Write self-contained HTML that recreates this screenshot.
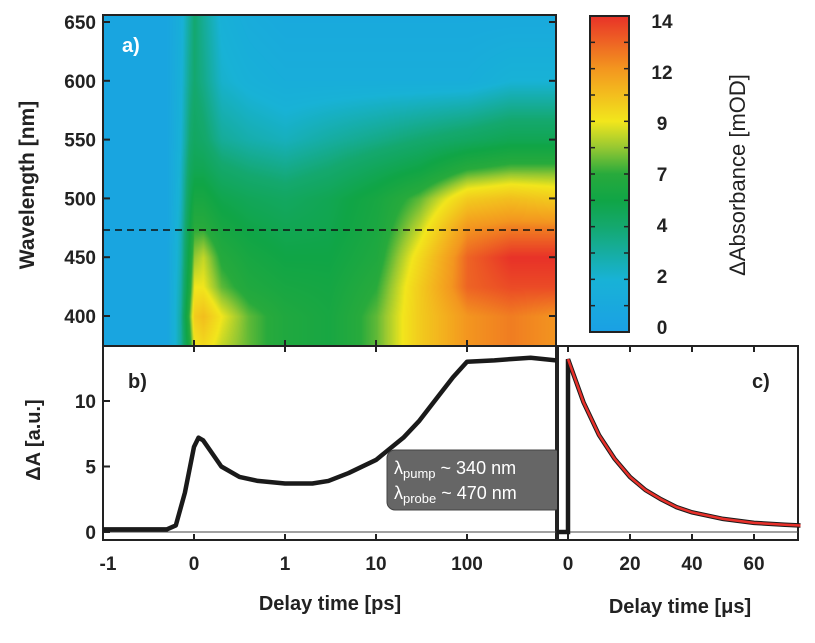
<!DOCTYPE html>
<html><head><meta charset="utf-8"><style>
body{margin:0;background:#fff;width:815px;height:643px;overflow:hidden;font-family:"Liberation Sans",sans-serif;}
svg text{font-family:"Liberation Sans",sans-serif;font-weight:bold;fill:#222;}
#hm{position:absolute;left:103px;top:15px;}
</style></head><body>
<canvas id="hm" width="453" height="331"></canvas>
<svg id="s" width="815" height="643" style="position:absolute;left:0;top:0"></svg>
<script>
// heatmap data
const hmTimes=[-1,-0.3,-0.15,-0.05,0,0.1,0.3,0.6,1,3,10,30,100,300,1000];
const hmWaves=[375,400,425,450,475,500,525,550,600,656];
const hmValues=[ // rows = times, cols = waves
[0.5,0.5,0.5,0.5,0.5,0.5,0.5,0.5,0.5,0.5],
[0.6,0.6,0.6,0.6,0.6,0.6,0.6,0.6,0.6,0.6],
[3,3,2.8,2.6,2.5,2.3,2.2,2,1.8,1.6],
[6.5,7.5,6.5,6,5.5,5,4.5,4,3.5,3.2],
[9,10,9,8,7,6,5,4.5,4,4],
[9.5,10.5,9,8.5,7,6,5,4.2,3.5,3.2],
[8.5,9,7.5,6.8,6,5.2,4.2,3.2,2.2,1.8],
[7.5,7.5,6.5,6,5.4,4.8,3.8,2.8,1.8,1.3],
[6.5,6.5,6,5.5,5,4.5,3.5,2.5,1.5,1],
[6,6,5.8,5.5,5.2,5,4,3,1.5,1],
[7.5,7.5,7,6.5,6.2,6,4.8,3.5,1.5,1],
[10,10,10,9.5,8.5,7.5,5.5,4,1.5,1],
[12,12,13,13,12,10,7,4.5,1.5,1],
[12.5,12.5,13.5,14,12.5,10.5,7.5,5,2,1],
[12,12,13.5,14,12.5,10,7.5,5,2,1]];
// panel b data
const bTimes=[-1,-0.5,-0.3,-0.2,-0.1,0,0.05,0.1,0.2,0.3,0.5,0.7,1,2,3,5,10,20,30,50,70,100,200,300,500,950];
const bValues=[0.2,0.2,0.2,0.5,3,6.5,7.2,7,6,5,4.2,3.9,3.7,3.7,3.9,4.5,5.5,7.2,8.5,10.5,11.8,13,13.1,13.2,13.3,13.1];
// panel c data
const cTimes=[0,5,10,15,20,25,30,35,40,50,60,70,75];
const cValues=[13.2,9.9,7.4,5.6,4.2,3.2,2.5,1.9,1.5,1.0,0.7,0.55,0.5];
const xTickLabels=["-1","0","1","10","100"];
const xTickVals=[-1,0,1,10,100];
const wTicks=[400,450,500,550,600,650];
const aTicks=[0,5,10];
const cTicks=[0,20,40,60];
const cbLabels=[0,2,4,7,9,12,14];

function u(t){return t<=1?t:1+Math.log10(t);}
function xT(t){return 194+u(t)*91;}
function yW(w){return 316-(w-400)*1.176;}
function yA(a){return 532-a*13.1;}
function xC(t){return 568+t*3.1;}
const stops=[[0,[26,160,228]],[2,[24,178,214]],[4,[20,168,110]],[5.5,[16,165,70]],[7,[40,170,60]],[8,[150,200,50]],[9,[242,230,28]],[12,[243,150,31]],[14,[232,50,40]]];
function col(v){v=Math.max(0,Math.min(14,v));for(let i=0;i<stops.length-1;i++){const[a,ca]=stops[i],[b,cb]=stops[i+1];if(v<=b){const f=(v-a)/(b-a);return ca.map((c,k)=>Math.round(c+(cb[k]-c)*f));}}return stops[stops.length-1][1];}
const cv=document.getElementById('hm'),ctx=cv.getContext('2d'),img=ctx.createImageData(453,331);
const tu=hmTimes.map(u);
function idx(arr,v){for(let i=0;i<arr.length-1;i++)if(v<=arr[i+1])return i;return arr.length-2;}
for(let py=0;py<331;py++){const w=400+(316-(py+15))/1.176;const j=idx(hmWaves,w);const fw=Math.max(0,Math.min(1,(w-hmWaves[j])/(hmWaves[j+1]-hmWaves[j])));
for(let px=0;px<453;px++){const uu=(px+103-194)/91;const i=idx(tu,uu);const ft=Math.max(0,Math.min(1,(uu-tu[i])/(tu[i+1]-tu[i])));
const v=(hmValues[i][j]*(1-fw)+hmValues[i][j+1]*fw)*(1-ft)+(hmValues[i+1][j]*(1-fw)+hmValues[i+1][j+1]*fw)*ft;
const c=col(v),o=(py*453+px)*4;img.data[o]=c[0];img.data[o+1]=c[1];img.data[o+2]=c[2];img.data[o+3]=255;}}
ctx.putImageData(img,0,0);

const S=document.getElementById('s'),NS='http://www.w3.org/2000/svg';
function el(t,a,txt){const e=document.createElementNS(NS,t);for(const k in a)e.setAttribute(k,a[k]);if(txt!==undefined)e.textContent=txt;S.appendChild(e);return e;}
let e;
e=el('rect',{x:103,y:15,width:453,height:331,fill:'none',stroke:'#222','stroke-width':2});

e=el('line',{x1:103,y1:230,x2:556,y2:230,stroke:'#111','stroke-width':1.6,'stroke-dasharray':'7,5'});

e=el('text',{x:122,y:52,'font-size':20,style:'fill:#fff'},'a)');

wTicks.forEach(w=>{el('line',{x1:103,y1:yW(w),x2:110,y2:yW(w),stroke:'#222','stroke-width':2});el('line',{x1:549,y1:yW(w),x2:556,y2:yW(w),stroke:'#222','stroke-width':2});
e=el('text',{x:96,y:yW(w)+7,'font-size':19,'text-anchor':'end'},w);});
e=el('text',{x:34,y:185,'font-size':21,'text-anchor':'middle',transform:'rotate(-90 34 185)'},'Wavelength [nm]');

const defs=el('defs',{});const lg=document.createElementNS(NS,'linearGradient');lg.setAttribute('id','cb');lg.setAttribute('x1',0);lg.setAttribute('y1',1);lg.setAttribute('x2',0);lg.setAttribute('y2',0);defs.appendChild(lg);
for(let k=0;k<=28;k++){const v=k/2;const pos=(()=>{for(let i=0;i<cbLabels.length-1;i++)if(v<=cbLabels[i+1])return (i+(v-cbLabels[i])/(cbLabels[i+1]-cbLabels[i]))/(cbLabels.length-1);return 1;})();const s=document.createElementNS(NS,'stop');s.setAttribute('offset',pos);s.setAttribute('stop-color','rgb('+col(v).join(',')+')');lg.appendChild(s);}
e=el('rect',{x:590,y:16,width:39,height:316,fill:'url(#cb)',stroke:'#222','stroke-width':2});

cbLabels.forEach((v,i)=>{const y=327-i*51;e=el('text',{x:662,y:y+7,'font-size':19,'text-anchor':'middle'},v);});
for(let k=1;k<12;k++){const y=332-k*316/12;el('line',{x1:590,y1:y,x2:595,y2:y,stroke:'#222','stroke-width':1.5});el('line',{x1:624,y1:y,x2:629,y2:y,stroke:'#222','stroke-width':1.5});}
e=el('text',{x:745,y:175,'font-size':22,'text-anchor':'middle',transform:'rotate(-90 745 175)',style:'font-weight:normal'},'\u0394Absorbance [mOD]');

e=el('rect',{x:103,y:346,width:453,height:194,fill:'#fff',stroke:'#222','stroke-width':2});

el('line',{x1:103,y1:532,x2:556,y2:532,stroke:'#444','stroke-width':1});
e=el('text',{x:128,y:388,'font-size':20},'b)');
xTickVals.forEach((t,i)=>{el('line',{x1:xT(t),y1:340,x2:xT(t),y2:352,stroke:'#222','stroke-width':2});el('line',{x1:xT(t),y1:534,x2:xT(t),y2:540,stroke:'#222','stroke-width':2});
e=el('text',{x:xT(t)+(i==0?5:0),y:570,'font-size':19,'text-anchor':'middle'},xTickLabels[i]);});
aTicks.forEach(a=>{el('line',{x1:103,y1:yA(a),x2:110,y2:yA(a),stroke:'#222','stroke-width':2});
e=el('text',{x:96,y:yA(a)+7,'font-size':19,'text-anchor':'end'},a);});
e=el('text',{x:40,y:440,'font-size':20,'text-anchor':'middle',transform:'rotate(-90 40 440)'},'\u0394A [a.u.]');

e=el('polyline',{points:bTimes.map((t,i)=>xT(t)+','+yA(bValues[i])).join(' '),fill:'none',stroke:'#1a1a1a','stroke-width':4.5,'stroke-linejoin':'round'});

e=el('rect',{x:387,y:450,width:175,height:60,rx:8,fill:'#666',stroke:'#444'});
e=el('text',{x:394,y:474,'font-size':18,style:'fill:#fff;font-weight:normal'});e.innerHTML='\u03bb<tspan font-size="13" dy="4">pump</tspan><tspan dy="-4"> ~ 340 nm</tspan>';

e=el('text',{x:394,y:499,'font-size':18,style:'fill:#fff;font-weight:normal'});e.innerHTML='\u03bb<tspan font-size="13" dy="4">probe</tspan><tspan dy="-4"> ~ 470 nm</tspan>';

e=el('text',{x:330,y:610,'font-size':20,'text-anchor':'middle'},'Delay time [ps]');
e=el('rect',{x:558,y:346,width:240,height:194,fill:'#fff',stroke:'#222','stroke-width':2});

e=el('text',{x:752,y:388,'font-size':20},'c)');
cTicks.forEach(t=>{el('line',{x1:xC(t),y1:346,x2:xC(t),y2:352,stroke:'#222','stroke-width':2});el('line',{x1:xC(t),y1:534,x2:xC(t),y2:540,stroke:'#222','stroke-width':2});
e=el('text',{x:xC(t),y:570,'font-size':19,'text-anchor':'middle'},t);});
el('line',{x1:558,y1:532,x2:798,y2:532,stroke:'#444','stroke-width':1});
e=el('polyline',{points:xC(-3.5)+','+yA(0)+' '+xC(cTimes[0])+','+yA(0)+' '+cTimes.map((t,i)=>xC(t)+','+yA(cValues[i])).join(' '),fill:'none',stroke:'#1a1a1a','stroke-width':4.5});

e=el('polyline',{points:cTimes.map((t,i)=>xC(t)+','+yA(cValues[i])).join(' '),fill:'none',stroke:'#e8302a','stroke-width':2.5});

e=el('text',{x:680,y:613,'font-size':20,'text-anchor':'middle'},'Delay time [\u03bcs]');
</script>
</body></html>
